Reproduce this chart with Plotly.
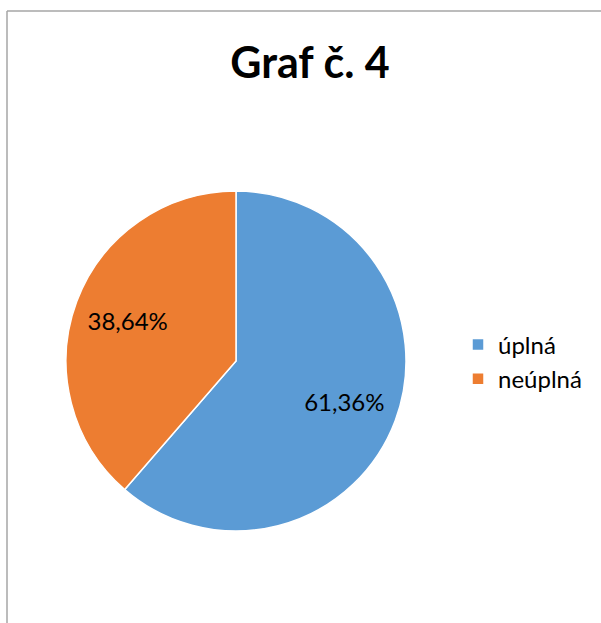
import plotly.graph_objects as go

W, H = 601, 623

labels = ["úplná", "neúplná"]
values = [61.36, 38.64]
colors = ["#5b9bd5", "#ed7d31"]
text_labels = ["61,36%", "38,64%"]

FONT = "Lato, Calibri, Carlito, sans-serif"
pie_domain = dict(x=[66 / W, 406 / W], y=[1 - 531 / H, 1 - 191 / H])

fig = go.Figure()
# filled slices
fig.add_trace(go.Pie(
    labels=labels, values=values, textinfo="none",
    sort=False, direction="clockwise", rotation=0,
    marker=dict(colors=colors, line=dict(color="white", width=1.5)),
    domain=pie_domain, hoverinfo="label+percent",
))
# transparent ring on top, only to place the % labels further out like Excel
fig.add_trace(go.Pie(
    labels=labels, values=values, text=text_labels, hole=0.36,
    textinfo="text", textposition="inside", insidetextorientation="horizontal",
    sort=False, direction="clockwise", rotation=0,
    marker=dict(colors=["rgba(0,0,0,0)"] * 2, line=dict(width=0)),
    textfont=dict(family=FONT, size=24, color="black"),
    domain=pie_domain, showlegend=False, hoverinfo="skip",
))

# chart frame (only left and top edges are in view)
fig.add_shape(type="line", xref="paper", yref="paper", x0=7 / W, x1=7 / W,
              y0=0, y1=1 - 11 / H, line=dict(color="#a6a6a6", width=1.5))
fig.add_shape(type="line", xref="paper", yref="paper", x0=7 / W, x1=1,
              y0=1 - 11 / H, y1=1 - 11 / H, line=dict(color="#a6a6a6", width=1.5))

fig.update_layout(
    width=W, height=H,
    margin=dict(l=0, r=0, t=0, b=0),
    paper_bgcolor="white",
    title=dict(text="<b>Graf č. 4</b>", x=310 / W, xanchor="center",
               y=1 - 63 / H, yanchor="middle",
               font=dict(family=FONT, size=43, color="black")),
    legend=dict(x=458 / W, y=1 - 362 / H, xanchor="left", yanchor="middle",
                font=dict(family=FONT, size=24, color="black"),
                itemwidth=30, tracegroupgap=0),
)

fig.write_html("out.html", config={"displayModeBar": False},
               post_script="document.body.style.margin='0';")
